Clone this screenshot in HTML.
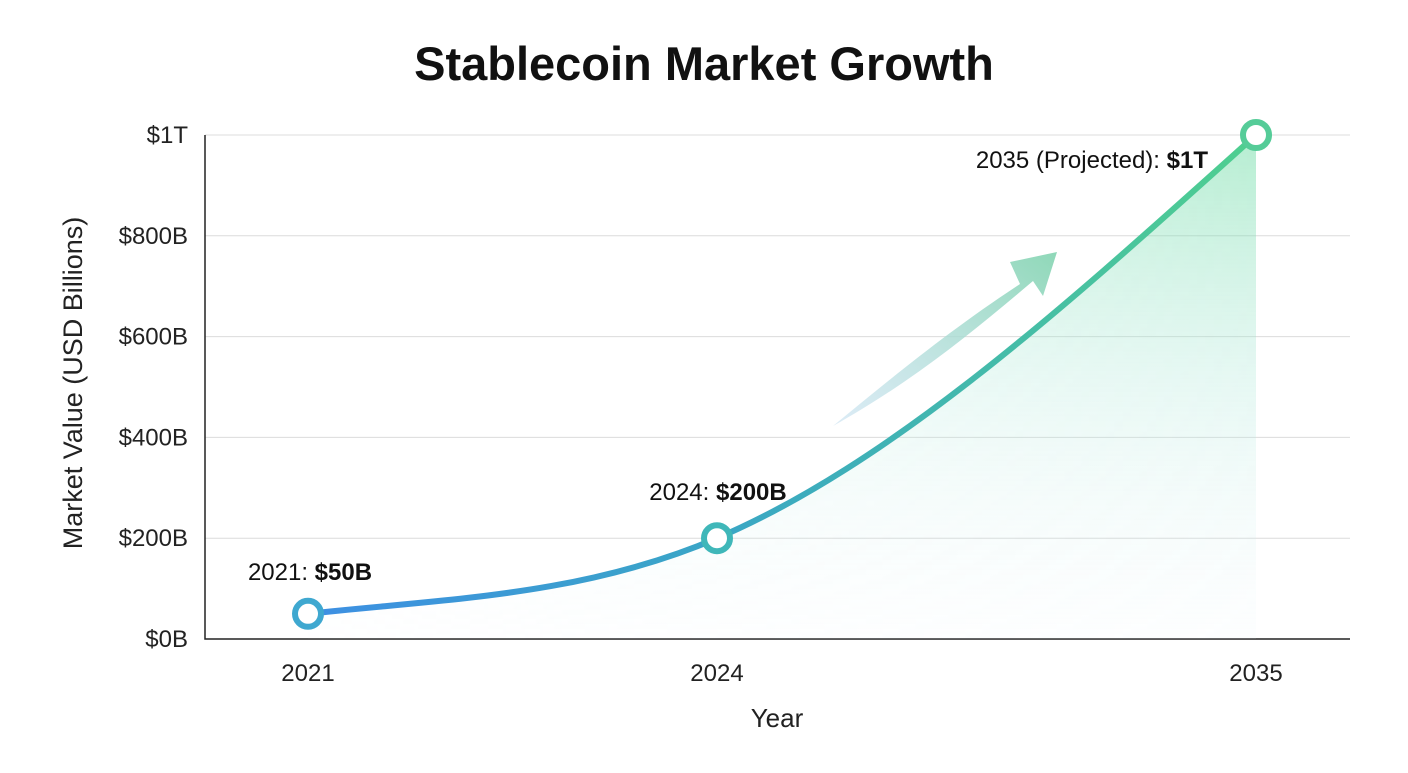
<!DOCTYPE html>
<html><head><meta charset="utf-8">
<style>
body{margin:0;background:#fff;font-family:"Liberation Sans",sans-serif;}
svg text{font-family:"Liberation Sans",sans-serif;}
</style></head>
<body>
<svg id="chart" width="1408" height="768" viewBox="0 0 1408 768" xmlns="http://www.w3.org/2000/svg">
<defs>
<linearGradient id="lineGrad" x1="0" y1="0" x2="1" y2="0">
<stop offset="0" stop-color="#3d8fe3"/><stop offset="0.45" stop-color="#3aa7c4"/><stop offset="1" stop-color="#4fcf8f"/>
</linearGradient>
<linearGradient id="areaGrad" x1="0" y1="0" x2="0" y2="1">
<stop offset="0" stop-color="#6fdca4" stop-opacity="0.55"/><stop offset="0.5" stop-color="#a8e6d6" stop-opacity="0.3"/><stop offset="1" stop-color="#e8f4fb" stop-opacity="0.1"/>
</linearGradient>
<linearGradient id="areaMask" x1="0" y1="0" x2="1" y2="0">
<stop offset="0" stop-color="#fff" stop-opacity="0"/><stop offset="0.4" stop-color="#fff" stop-opacity="0.6"/><stop offset="1" stop-color="#fff" stop-opacity="1"/>
</linearGradient>
<mask id="am"><rect x="0" y="0" width="1408" height="768" fill="url(#areaMask)"/></mask>
<linearGradient id="arrowGrad" x1="0" y1="1" x2="1" y2="0">
<stop offset="0" stop-color="#c5dff0" stop-opacity="0.6"/><stop offset="1" stop-color="#8fd8b8"/>
</linearGradient>
</defs>
<text x="704" y="80" text-anchor="middle" font-size="47" font-weight="bold" fill="#111">Stablecoin Market Growth</text>
<text transform="translate(82,383) rotate(-90)" text-anchor="middle" font-size="27" fill="#222">Market Value (USD Billions)</text>
<text x="777" y="727" text-anchor="middle" font-size="26" fill="#222">Year</text>
<g id="grid"></g><g id="area"></g><g id="arrow"></g><g id="line"></g><g id="points"></g><g id="labels"></g>
</svg>
<script>
const years = [2021, 2024, 2035];
const values = [50, 200, 1000];
const valueLabels = ["$50B", "$200B", "$1T"];
const labelPrefixes = ["2021: ", "2024: ", "2035 (Projected): "];
const yTicks = [0, 200, 400, 600, 800, 1000];
const yTickLabels = ["$0B", "$200B", "$400B", "$600B", "$800B", "$1T"];

const NS = "http://www.w3.org/2000/svg";
const L = 205, R = 1350, T = 135, B = 639;
const xAnchors = [308, 717, 1256];
function x(yr){
  for(let i=0;i<years.length-1;i++){
    if(yr<=years[i+1]||i===years.length-2){
      const t=(yr-years[i])/(years[i+1]-years[i]);
      return xAnchors[i]+t*(xAnchors[i+1]-xAnchors[i]);
    }
  }
}
function y(v){return B-(v/1000)*(B-T);}
function mk(tag,attrs,parent){const e=document.createElementNS(NS,tag);for(const k in attrs)e.setAttribute(k,attrs[k]);parent.appendChild(e);return e;}

const grid=document.getElementById('grid');
yTicks.forEach((v,i)=>{
  if(v>0){const g=mk('line',{x1:L,x2:R,y1:y(v),y2:y(v),stroke:'#dcdcdc','stroke-width':1},grid);
  
  }
  const t=mk('text',{x:188,y:y(v)+8,'text-anchor':'end','font-size':24,fill:'#222'},grid);
  t.textContent=yTickLabels[i];
  
  
});
const ax=mk('path',{d:`M${L},${T} V${B} H${R}`,stroke:'#222','stroke-width':1.5,fill:'none'},grid);


years.forEach(yr=>{
  const t=mk('text',{x:x(yr),y:681,'text-anchor':'middle','font-size':24,fill:'#222'},grid);
  t.textContent=yr;
  
  
});

const px=years.map(x), py=values.map(y);
const n=px.length, m=[];
const d=[];for(let i=0;i<n-1;i++)d.push((py[i+1]-py[i])/(px[i+1]-px[i]));
m[0]=d[0]*0.6;m[n-1]=d[n-2]*1.2;
for(let i=1;i<n-1;i++)m[i]=(d[i-1]*(px[i+1]-px[i])+d[i]*(px[i]-px[i-1]))/(px[i+1]-px[i-1]);
let path=`M${px[0]},${py[0]}`;
for(let i=0;i<n-1;i++){const h=px[i+1]-px[i];
  path+=` C${px[i]+h/3},${py[i]+m[i]*h/3} ${px[i+1]-h/3},${py[i+1]-m[i+1]*h/3} ${px[i+1]},${py[i+1]}`;}
const area=mk('path',{d:path+` L${px[n-1]},${B} L${px[0]},${B} Z`,fill:'url(#areaGrad)',mask:'url(#am)'},document.getElementById('area'));


const line=mk('path',{d:path,fill:'none',stroke:'url(#lineGrad)','stroke-width':6,'stroke-linecap':'round'},document.getElementById('line'));



const arr=mk('path',{d:'M833,426 C895,375 950,330 1020,284 L1010,262 L1057,252 L1043,296 L1033,281 C975,330 915,380 833,426 Z',fill:'url(#arrowGrad)'},document.getElementById('arrow'));



const cols=['#3fa8d0','#3fb7b9','#55cc98'];
const lblPos=[[310,580,'middle'],[718,500,'middle'],[1208,168,'end']];
years.forEach((yr,i)=>{
  const c=mk('circle',{cx:x(yr),cy:y(values[i]),r:13,fill:'#fff',stroke:cols[i],'stroke-width':6},document.getElementById('points'));
  
  
  const t=mk('text',{x:lblPos[i][0],y:lblPos[i][1],'text-anchor':lblPos[i][2],'font-size':24,fill:'#111'},document.getElementById('labels'));
  
  
  const a=mk('tspan',{},t);a.textContent=labelPrefixes[i];
  const b=mk('tspan',{'font-weight':'bold'},t);b.textContent=valueLabels[i];
});
</script>
</body></html>
